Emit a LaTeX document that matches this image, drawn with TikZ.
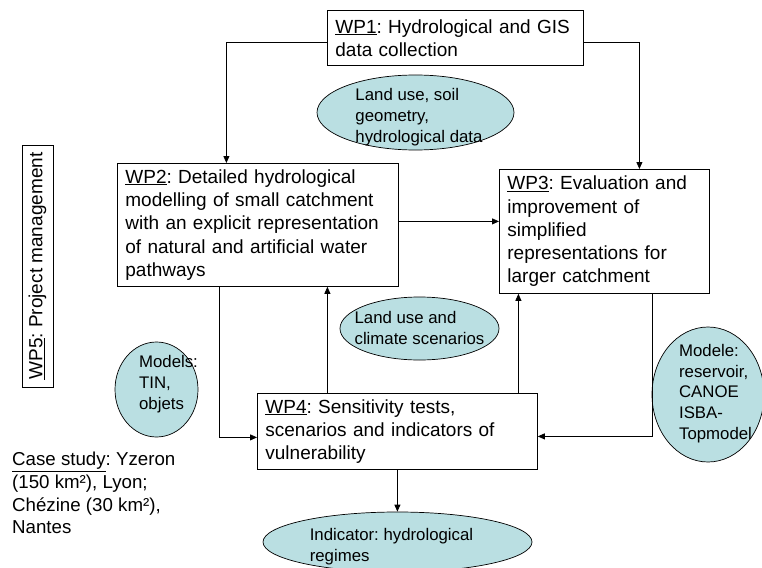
\documentclass[tikz,border=0pt]{standalone}
\usepackage{fontspec}
\setmainfont{Liberation Sans}
\usetikzlibrary{arrows.meta, shapes.geometric, positioning}
\definecolor{blobfill}{RGB}{186,223,226}
\frenchspacing

\begin{document}
\begin{tikzpicture}[x=1pt, y=-1pt,
    wpbox/.style={draw, line width=0.8pt, fill=white, anchor=north west, align=left,
        inner xsep=8pt, inner ysep=0pt, font=\fontsize{19}{23.3}\selectfont},
    blob/.style={ellipse, draw, line width=0.7pt, fill=blobfill, inner sep=0pt},
    blobtext/.style={align=left, inner sep=0pt, font=\fontsize{16.8}{20.8}\selectfont},
    arr/.style={line width=0.8pt, -{Triangle[length=7pt,width=6pt]}}]
  \useasboundingbox (0,0) rectangle (762,567);

  \node[wpbox, text width=240pt, minimum height=55pt] (wp1) at (327,10)
      {\underline{WP1}: Hydrological and GIS\\data collection};
  \node[wpbox, text width=265pt, minimum height=123pt] (wp2) at (117,163)
      {\underline{WP2}: Detailed hydrological\\modelling of small catchment\\with an explicit representation\\of natural and artificial water\\pathways};
  \node[wpbox, text width=194pt, minimum height=124pt] (wp3) at (499,169)
      {\underline{WP3}: Evaluation and\\improvement of\\simplified\\representations for\\larger catchment};
  \node[wpbox, text width=264pt, minimum height=76pt] (wp4) at (257,393)
      {\underline{WP4}: Sensitivity tests,\\scenarios and indicators of\\vulnerability};

  \node[draw, line width=0.8pt, rotate=90, minimum width=242pt, minimum height=31pt,
      inner sep=0pt, font=\fontsize{19}{23.3}\selectfont] (wp5) at (37.5,266)
      {\underline{WP5}: Project management};

  \node[blob, minimum width=197pt, minimum height=75pt] (landdata) at (415.5,112.5) {};
  \node[blobtext] (landdatatext) at (419,117) {Land use, soil\\geometry,\\hydrological data};
  \node[blob, minimum width=159pt, minimum height=63pt] (scenarios) at (419.5,328.5) {};
  \node[blobtext] (scenariostext) at (419.5,328) {Land use and\\climate scenarios};
  \node[blob, minimum width=83pt, minimum height=95pt] (models) at (156.5,389.5) {};
  \node[blobtext] (modelstext) at (168.5,384) {Models:\\TIN,\\objets};
  \node[blob, minimum width=112pt, minimum height=135pt] (modele) at (708,394.5) {};
  \node[blobtext] (modeletext) at (715.5,393.5) {Modele:\\reservoir,\\CANOE\\ISBA-\\Topmodel};
  \node[blob, minimum width=269pt, minimum height=60pt] (indicator) at (397.5,542) {};
  \node[blobtext] (indicatortext) at (391.5,547) {Indicator: hydrological\\regimes};

  \node[align=left, anchor=north west, inner sep=0pt, font=\fontsize{18.7}{22.7}\selectfont]
      (casestudy) at (12,452)
      {\underline{Case study}: Yzeron\\(150 km²), Lyon;\\Chézine (30 km²),\\Nantes};

  \draw[arr] ([yshift=-4.5pt]wp1.west) -| ([xshift=-31.5pt]wp2.north);
  \draw[arr] ([yshift=-4.5pt]wp1.east) -| ([xshift=35pt]wp3.north);
  \draw[arr] ([yshift=3.5pt]wp2.east) -- ([yshift=3.5pt]wp2.east -| wp3.west);
  \draw[arr] ([xshift=-38.5pt]wp2.south) |- ([yshift=-6pt]wp4.west);
  \draw[arr] ([xshift=-70pt]wp4.north) -- ([xshift=-70pt]wp4.north |- wp2.south);
  \draw[arr] ([xshift=121pt]wp4.north) -- ([xshift=121pt]wp4.north |- wp3.south);
  \draw[arr] ([xshift=48pt]wp3.south) |- ([yshift=-5pt]wp4.east);
  \draw[arr] (wp4.south) -- (wp4.south |- indicator.north);
\end{tikzpicture}
\end{document}
